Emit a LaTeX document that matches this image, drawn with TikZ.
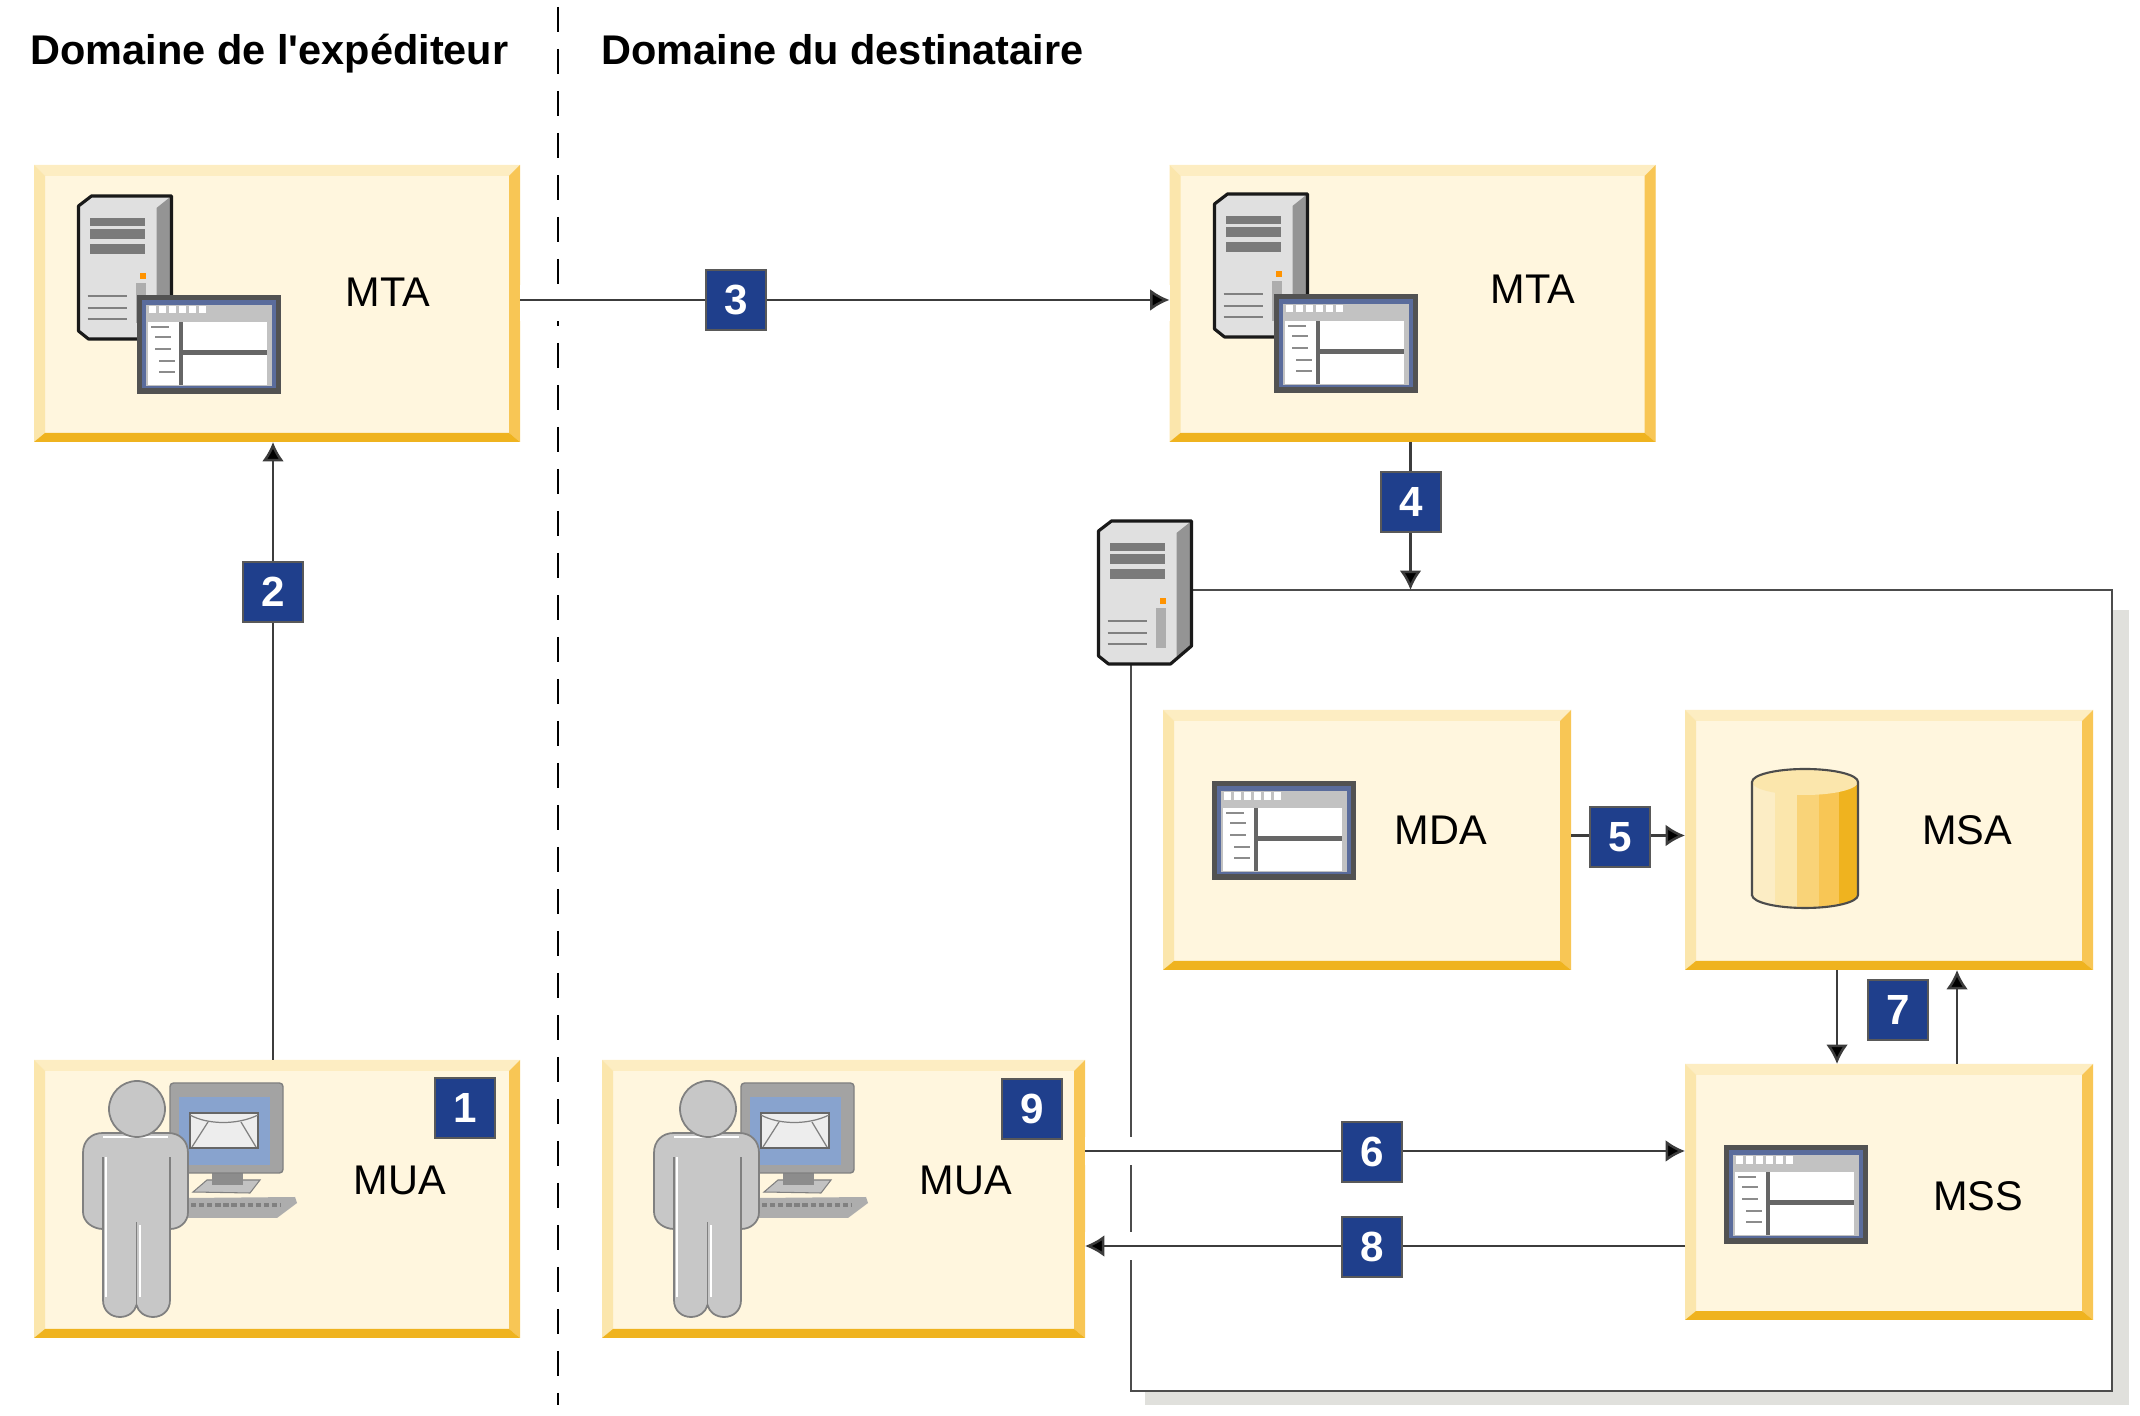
\documentclass[tikz,border=0pt]{standalone}
\usepackage{fontspec}
\setmainfont{Liberation Sans}[Ligatures=TeXOff]
\usetikzlibrary{arrows.meta}

\definecolor{cream}{HTML}{FFF6DE}
\definecolor{bevelt}{HTML}{FDEDC2}
\definecolor{bevell}{HTML}{FBE6AC}
\definecolor{bevelr}{HTML}{F8C655}
\definecolor{bevelb}{HTML}{EFB31F}
\definecolor{badgeblue}{HTML}{1F3F8C}
\definecolor{shadowgrey}{HTML}{E0E0DC}
\definecolor{wire}{HTML}{3C3C3C}
\definecolor{winblue}{HTML}{5A6C9C}
\definecolor{screenblue}{HTML}{88A3CE}

\tikzset{
  box/.style={rectangle,inner sep=0pt,outer sep=0pt,fill=cream,font=\fontsize{11.8}{14}\selectfont,
    path picture={
      \coordinate (sw) at (path picture bounding box.south west);
      \coordinate (se) at (path picture bounding box.south east);
      \coordinate (nw) at (path picture bounding box.north west);
      \coordinate (ne) at (path picture bounding box.north east);
      \fill [bevelt] (nw) -- (ne) -- ([shift={(-.11,-.11)}]ne) -- ([shift={(.11,-.11)}]nw) -- cycle;
      \fill [bevell] (nw) -- (sw) -- ([shift={(.11,.09)}]sw) -- ([shift={(.11,-.11)}]nw) -- cycle;
      \fill [bevelr] (ne) -- (se) -- ([shift={(-.11,.09)}]se) -- ([shift={(-.11,-.11)}]ne) -- cycle;
      \fill [bevelb] (sw) -- (se) -- ([shift={(-.11,.09)}]se) -- ([shift={(.11,.09)}]sw) -- cycle;
    }},
  label/.style={inner sep=0pt,font=\fontsize{11.8}{14}\selectfont},
  title/.style={inner sep=0pt,anchor=base west,font=\fontsize{11.8}{14}\selectfont\bfseries},
  badge/.style={rectangle,draw=black!65,line width=.5pt,fill=badgeblue,text=white,inner sep=0pt,
    minimum size=.6cm,font=\fontsize{12}{14}\selectfont\bfseries},
  flow/.style={draw=wire,line width=.7pt,-{Latex[length=5.5pt,width=6.2pt,fill=black]}},
  band/.style={draw=white,line width=.28cm},
  pics/server/.style={code={
    \fill [black!12] (.13,1.45) -- (.93,1.45) -- (.93,.2) -- (.72,.02) -- (.1,.02) -- (0,.1) -- (0,1.35) -- cycle;
    \fill [black!42] (.78,1.33) -- (.93,1.45) -- (.93,.2) -- (.78,.08) -- cycle;
    \fill [black!52] (.11,1.15) rectangle (.66,1.23);
    \fill [black!52] (.11,1.02) rectangle (.66,1.12);
    \fill [black!52] (.11,.87) rectangle (.66,.97);
    \fill [black!32] (.57,.18) rectangle (.67,.58);
    \fill [orange!85!yellow] (.61,.62) rectangle (.67,.68);
    \draw [black!50,line width=.8pt] (.09,.45) -- (.48,.45);
    \draw [black!50,line width=.8pt] (.09,.33) -- (.48,.33);
    \draw [black!50,line width=.8pt] (.09,.22) -- (.48,.22);
    \draw [black!90,line width=.9pt,line join=round] (.13,1.45) -- (.93,1.45) -- (.93,.2) -- (.72,.02) -- (.1,.02) -- (0,.1) -- (0,1.35) -- cycle;
  }},
  pics/window/.style={code={
    \fill [black!68] (0,0) rectangle (1.44,.99);
    \fill [winblue] (.05,.06) rectangle (1.39,.94);
    \fill [black!24] (.09,.08) rectangle (1.35,.89);
    \fill [black!60] (.11,.09) rectangle (1.30,.72);
    \fill [white] (.11,.09) rectangle (.42,.72);
    \fill [white] (.46,.44) rectangle (1.30,.72);
    \fill [white] (.46,.09) rectangle (1.30,.39);
    \draw [white,line width=2pt,dash pattern=on 1.9pt off .95pt] (.12,.84) -- (.72,.84);
    \draw [black!45,line width=.4pt] (.14,.67) -- (.32,.67);
    \draw [black!45,line width=.4pt] (.18,.57) -- (.34,.57);
    \draw [black!45,line width=.4pt] (.18,.45) -- (.34,.45);
    \draw [black!45,line width=.4pt] (.22,.33) -- (.38,.33);
    \draw [black!45,line width=.4pt] (.22,.22) -- (.38,.22);
  }},
  pics/cylinder/.style={code={
    \begin{scope}
      \clip (0,.13) -- (0,1.26) arc [start angle=180,end angle=0,x radius=.53,y radius=.13]
        -- (1.06,.13) arc [start angle=0,end angle=-180,x radius=.53,y radius=.13] -- cycle;
      \fill [bevell!70!white] (0,0) rectangle (.23,1.39);
      \fill [bevell] (.23,0) rectangle (.45,1.39);
      \fill [bevelr!60!bevell] (.45,0) rectangle (.67,1.39);
      \fill [bevelr] (.67,0) rectangle (.87,1.39);
      \fill [bevelb] (.87,0) rectangle (1.06,1.39);
    \end{scope}
    \fill [bevell] (.53,1.26) ellipse [x radius=.53,y radius=.13];
    \draw [black!70,line width=.6pt] (0,.13) -- (0,1.26) arc [start angle=180,end angle=0,x radius=.53,y radius=.13]
      -- (1.06,.13) arc [start angle=0,end angle=-180,x radius=.53,y radius=.13] -- cycle;
  }},
  pics/user/.style={code={
    \fill [black!32] (1.05,1.19) -- (2.12,1.20) -- (2.14,1.14) -- (1.94,.99) -- (1.04,.99) -- cycle;
    \draw [black!50,line width=1.4pt,dash pattern=on 1.5pt off .8pt] (1.08,1.12) -- (1.98,1.12);
    \fill [black!24,draw=black!50,line width=.3pt] (1.10,1.25) -- (1.24,1.37) -- (1.77,1.37) -- (1.67,1.24) -- cycle;
    \fill [black!45] (1.29,1.32) rectangle (1.60,1.44);
    \fill [black!36,draw=black!50,line width=.4pt,rounded corners=1pt] (.87,1.44) rectangle (2.00,2.34);
    \fill [screenblue] (.96,1.52) rectangle (1.87,2.20);
    \fill [black!7,draw=black!60,line width=.5pt] (1.07,1.69) rectangle (1.75,2.04);
    \draw [black!50,line width=.35pt] (1.07,2.02) .. controls (1.25,1.92) and (1.55,1.92) .. (1.75,2.02);
    \draw [black!50,line width=.35pt] (1.09,1.70) -- (1.25,1.95);
    \draw [black!50,line width=.35pt] (1.73,1.70) -- (1.58,1.95);
    \fill [black!22,draw=black!50,line width=.5pt] (.2,1.84) -- (.85,1.84)
      .. controls (.97,1.84) and (1.05,1.76) .. (1.05,1.64) -- (1.05,1.05)
      .. controls (1.05,.95) and (.97,.88) .. (.87,.88) -- (.87,.17)
      .. controls (.87,.06) and (.79,0) .. (.70,0) .. controls (.62,0) and (.55,.05) .. (.535,.12)
      .. controls (.52,.05) and (.45,0) .. (.37,0) .. controls (.28,0) and (.2,.06) .. (.2,.17)
      -- (.2,.88) .. controls (.1,.88) and (0,.95) .. (0,1.05) -- (0,1.64)
      .. controls (0,1.76) and (.08,1.84) .. (.2,1.84) -- cycle;
    \draw [black!50,line width=.5pt] (.2,.88) -- (.2,1.6);
    \draw [black!50,line width=.5pt] (.87,.88) -- (.87,1.6);
    \draw [black!50,line width=.5pt] (.535,.12) -- (.535,.95);
    \draw [white,line width=.7pt] (.23,.2) -- (.23,1.6);
    \draw [white,line width=.7pt] (.57,.2) -- (.57,.92);
    \draw [white,line width=.7pt] (.2,1.80) -- (.85,1.80);
    \fill [black!22,draw=black!50,line width=.5pt] (.54,2.08) circle (.28);
  }},
}

\begin{document}
\begin{tikzpicture}
\useasboundingbox (0,0) rectangle (21.4,14.15);

\coordinate (dashtop)    at (5.58, 14.08);
\coordinate (dashbottom) at (5.58,  0.10);
\draw [line width=.8pt,dash pattern=on 7.11pt off 4.84pt] (dashtop) -- (dashbottom);

\node (titleleft)  at ( .30, 13.50) [title] {Domaine de l'expéditeur};
\node (titleright) at (6.01, 13.50) [title] {Domaine du destinataire};

\node (mtaleft)  at ( 2.77, 11.115) [box,minimum width=4.86cm,minimum height=2.77cm] {};
\node (mtaright) at (14.125,11.115) [box,minimum width=4.86cm,minimum height=2.77cm] {};
\node (mualeft)  at ( 2.77,  2.16)  [box,minimum width=4.86cm,minimum height=2.78cm] {};
\node (muaright) at ( 8.435, 2.16)  [box,minimum width=4.83cm,minimum height=2.78cm] {};

\fill [shadowgrey] (11.45,.10) rectangle (21.29,8.05);
\node (store) at (16.215,4.245) [rectangle,draw=black!70,line width=.8pt,fill=white,outer sep=0pt,
  minimum width=9.81cm,minimum height=8.01cm] {};

\node (mda) at (13.67, 5.75) [box,minimum width=4.08cm,minimum height=2.6cm] {};
\node (msa) at (18.89, 5.75) [box,minimum width=4.08cm,minimum height=2.6cm] {};
\node (mss) at (18.89, 2.23) [box,minimum width=4.08cm,minimum height=2.56cm] {};

\pic at ( .785,10.74) {server};
\pic at (12.145,10.76) {server};
\pic at (10.985, 7.49) {server};
\pic at ( 1.37,10.21) {window};
\pic at (12.74,10.22) {window};
\pic at (12.12, 5.35) {window};
\pic at (17.24, 1.71) {window};
\pic at ( .83,  .98)  {user};
\pic at ( 6.54, .98)  {user};
\pic at (17.52, 5.07) {cylinder};

\node (mtaleftlabel)  at ( 3.88, 11.23) [label] {MTA};
\node (mtarightlabel) at (15.33, 11.26) [label] {MTA};
\node (mualeftlabel)  at ( 4.00,  2.35) [label] {MUA};
\node (muarightlabel) at ( 9.66,  2.35) [label] {MUA};
\node (mdalabel)      at (14.41,  5.85) [label] {MDA};
\node (msalabel)      at (19.67,  5.85) [label] {MSA};
\node (msslabel)      at (19.78,  2.19) [label] {MSS};

\draw [band,line width=.36cm] (mtaleft.east) -- (mtaright.west);
\draw [band] ([yshift=.48cm]muaright.east) -- ([yshift=.41cm]mss.west);
\draw [band] ([yshift=-.47cm]muaright.east) -- ([yshift=-.54cm]mss.west);

\draw [flow] ([xshift=-.04cm]mualeft.north) -- ([xshift=-.04cm]mtaleft.south);
\draw [flow] ([yshift=.035cm]mtaleft.east) -- ([yshift=.035cm]mtaright.west);
\draw [flow] ([xshift=-.02cm]mtaright.south) -- ([xshift=-.02cm]mtaright.south |- store.north);
\draw [flow] ([yshift=.045cm]mda.east) -- ([yshift=.045cm]msa.west);
\draw [flow] ([yshift=.48cm]muaright.east) -- ([yshift=.41cm]mss.west);
\draw [flow] ([xshift=-.52cm]msa.south) -- ([xshift=-.52cm]mss.north);
\draw [flow] ([xshift=.68cm]mss.north) -- ([xshift=.68cm]msa.south);
\draw [flow] ([yshift=-.54cm]mss.west) -- ([yshift=-.47cm]muaright.east);

\node (stepone)   at ( 4.65,  3.07) [badge] {1};
\node (steptwo)   at ( 2.73,  8.23) [badge] {2};
\node (stepthree) at ( 7.36, 11.15) [badge] {3};
\node (stepfour)  at (14.11,  9.13) [badge] {4};
\node (stepfive)  at (16.20,  5.78) [badge] {5};
\node (stepsix)   at (13.72,  2.63) [badge] {6};
\node (stepseven) at (18.98,  4.05) [badge] {7};
\node (stepeight) at (13.72,  1.68) [badge] {8};
\node (stepnine)  at (10.32,  3.06) [badge] {9};
\end{tikzpicture}
\end{document}
